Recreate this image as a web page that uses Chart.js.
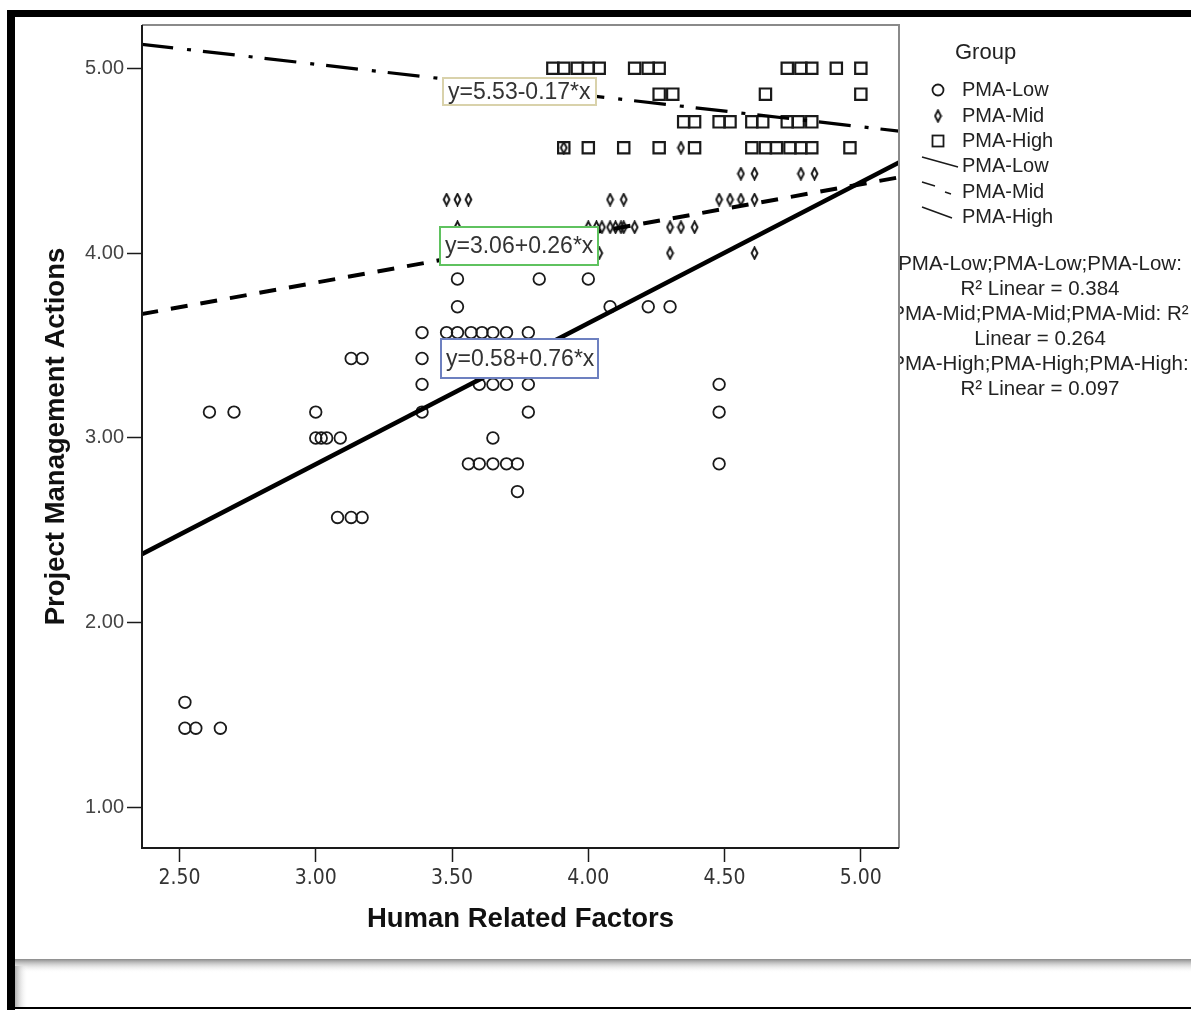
<!DOCTYPE html>
<html>
<head>
<meta charset="utf-8">
<script src="https://cdn.jsdelivr.net/npm/chart.js@4.4.1/dist/chart.umd.min.js"></script>
<style>
    html, body { margin: 0; padding: 0; background: #fff; }
    #wrap { position: relative; width: 1191px; height: 1010px; }
</style>
</head>
<body>
<div id="wrap"><canvas id="chartScatter" width="1191" height="1010"></canvas></div>
<script>
const xTicks = [2.5, 3, 3.5, 4, 4.5, 5];
const yTicks = [1, 2, 3, 4, 5];

// PMA-Low (circles)
const lowX = [2.52, 2.52, 2.56, 2.65, 2.61, 2.70, 3.00, 3.00, 3.02, 3.04, 3.09, 3.13, 3.17, 3.08, 3.13, 3.17,
    3.39, 3.39, 3.39, 3.39, 3.52, 3.82, 4.00, 3.52, 4.08, 4.22, 4.30, 3.48, 3.52, 3.57, 3.61, 3.65, 3.70, 3.78,
    3.60, 3.65, 3.70, 3.78, 4.48, 3.78, 4.48, 3.65, 3.56, 3.60, 3.65, 3.70, 3.74, 4.48, 3.74];
const lowY = [1.57, 1.43, 1.43, 1.43, 3.14, 3.14, 3.14, 3.00, 3.00, 3.00, 3.00, 3.43, 3.43, 2.57, 2.57, 2.57,
    3.57, 3.43, 3.29, 3.14, 3.86, 3.86, 3.86, 3.71, 3.71, 3.71, 3.71, 3.57, 3.57, 3.57, 3.57, 3.57, 3.57, 3.57,
    3.29, 3.29, 3.29, 3.29, 3.29, 3.14, 3.14, 3.00, 2.86, 2.86, 2.86, 2.86, 2.86, 2.86, 2.71];

// PMA-Mid (diamonds)
const midX = [3.48, 3.52, 3.56, 4.08, 4.13, 4.48, 4.52, 4.56, 4.61,
    4.56, 4.61, 4.78, 4.83,
    3.52, 4.00, 4.03, 4.05, 4.08, 4.10, 4.12, 4.13, 4.17, 4.30, 4.34, 4.39,
    4.04, 4.30, 4.61,
    4.34, 3.91];
const midY = [4.29, 4.29, 4.29, 4.29, 4.29, 4.29, 4.29, 4.29, 4.29,
    4.43, 4.43, 4.43, 4.43,
    4.14, 4.14, 4.14, 4.14, 4.14, 4.14, 4.14, 4.14, 4.14, 4.14, 4.14, 4.14,
    4.00, 4.00, 4.00,
    4.57, 4.57];

// PMA-High (squares)
const highX = [3.87, 3.91, 3.96, 4.00, 4.04, 4.17, 4.22, 4.26, 4.73, 4.78, 4.82, 4.91, 5.00,
    4.26, 4.31, 4.65, 5.00,
    4.35, 4.39, 4.48, 4.52, 4.60, 4.64, 4.73, 4.77, 4.82,
    3.91, 4.00, 4.13, 4.26, 4.39, 4.60, 4.65, 4.69, 4.74, 4.78, 4.82, 4.96];
const highY = [5.00, 5.00, 5.00, 5.00, 5.00, 5.00, 5.00, 5.00, 5.00, 5.00, 5.00, 5.00, 5.00,
    4.86, 4.86, 4.86, 4.86,
    4.71, 4.71, 4.71, 4.71, 4.71, 4.71, 4.71, 4.71, 4.71,
    4.57, 4.57, 4.57, 4.57, 4.57, 4.57, 4.57, 4.57, 4.57, 4.57, 4.57, 4.57];

// fit lines, read at the left and right edges of the plot
const fitX = [2.36, 5.14];
const fitLow = [2.37, 4.49];
const fitMid = [3.67, 4.41];
const fitHigh = [5.13, 4.66];

const groups = ['PMA-Low', 'PMA-Mid', 'PMA-High'];
const equations = ['y=0.58+0.76*x', 'y=3.06+0.26*x', 'y=5.53-0.17*x'];
const r2Lines = [
    'PMA-Low;PMA-Low;PMA-Low:', 'R\u00B2 Linear = 0.384',
    'PMA-Mid;PMA-Mid;PMA-Mid: R\u00B2', 'Linear = 0.264',
    'PMA-High;PMA-High;PMA-High:', 'R\u00B2 Linear = 0.097',
];

const ink = '#1a1a1a';
const sans = "'Liberation Sans', Arial, sans-serif";
const narrow = "'Liberation Sans Narrow', 'DejaVu Sans Condensed', 'Liberation Sans', sans-serif";

function toPoints(xs, ys) {
    return xs.map(function (x, i) { return { x: x, y: ys[i] }; });
}

function diamondMarker() {
    const c = document.createElement('canvas');
    c.width = 9;
    c.height = 14;
    const g = c.getContext('2d');
    g.strokeStyle = ink;
    g.lineWidth = 2;
    g.beginPath();
    g.moveTo(4.5, 1.4);
    g.lineTo(7.4, 7);
    g.lineTo(4.5, 12.6);
    g.lineTo(1.6, 7);
    g.closePath();
    g.stroke();
    return c;
}
const diamond = diamondMarker();

const backdrop = {
    id: 'backdrop',
    beforeDraw(chart) {
        const ctx = chart.ctx;
        ctx.save();
        ctx.fillStyle = '#fff';
        ctx.fillRect(0, 0, chart.width, chart.height);
        ctx.fillStyle = '#000';
        ctx.fillRect(7, 10, chart.width - 7, 7);
        ctx.fillRect(7, 10, 8, chart.height - 10);
        let g = ctx.createLinearGradient(0, 959, 0, 973);
        g.addColorStop(0, '#8a8a8a');
        g.addColorStop(1, 'rgba(255,255,255,0)');
        ctx.fillStyle = g;
        ctx.fillRect(15, 959, chart.width - 15, 14);
        g = ctx.createLinearGradient(15, 0, 28, 0);
        g.addColorStop(0, '#b0b0b0');
        g.addColorStop(1, 'rgba(255,255,255,0)');
        ctx.fillStyle = g;
        ctx.fillRect(15, 966, 13, 41);
        ctx.fillStyle = '#000';
        ctx.fillRect(15, 1007, chart.width - 15, 2);
        ctx.restore();
    },
};

const boxes = [
    { text: equations[2], left: 443, top: 78, width: 153, height: 27, color: '#d9d2ab' },
    { text: equations[1], left: 440, top: 227, width: 158, height: 38, color: '#5fc25f' },
    { text: equations[0], left: 441, top: 339, width: 157, height: 39, color: '#6d80c0' },
];

const frameAndBoxes = {
    id: 'frameAndBoxes',
    afterDatasetsDraw(chart) {
        const ctx = chart.ctx;
        const a = chart.chartArea;
        ctx.save();
        ctx.lineWidth = 2;
        ctx.strokeStyle = '#8a8a8a';
        ctx.beginPath();
        ctx.moveTo(a.left, a.top);
        ctx.lineTo(a.right, a.top);
        ctx.lineTo(a.right, a.bottom);
        ctx.stroke();
        ctx.strokeStyle = ink;
        ctx.beginPath();
        ctx.moveTo(a.left, a.top);
        ctx.lineTo(a.left, a.bottom);
        ctx.lineTo(a.right, a.bottom);
        ctx.stroke();

        boxes.forEach(function (b) {
            ctx.fillStyle = '#fff';
            ctx.fillRect(b.left, b.top, b.width, b.height);
            ctx.strokeStyle = b.color;
            ctx.lineWidth = 2;
            ctx.strokeRect(b.left, b.top, b.width, b.height);
            ctx.fillStyle = '#333';
            ctx.font = '23px ' + sans;
            ctx.textBaseline = 'middle';
            ctx.textAlign = 'left';
            ctx.fillText(b.text, b.left + 5, b.top + b.height / 2 + 1);
        });
        ctx.restore();
    },
};

const legendPanel = {
    id: 'legendPanel',
    afterDraw(chart) {
        const ctx = chart.ctx;
        ctx.save();
        ctx.fillStyle = '#222';
        ctx.textBaseline = 'middle';
        ctx.textAlign = 'left';
        ctx.font = '22px ' + sans;
        ctx.fillText('Group', 955, 53);

        ctx.font = '20px ' + sans;
        const rows = [90, 116, 141, 166, 192, 217];
        const textX = 962;
        groups.forEach(function (name, i) {
            ctx.fillText(name, textX, rows[i]);
            ctx.fillText(name, textX, rows[i + 3]);
        });

        ctx.strokeStyle = ink;
        ctx.lineWidth = 1.8;
        ctx.beginPath();
        ctx.arc(938, rows[0], 5.5, 0, Math.PI * 2);
        ctx.stroke();
        ctx.drawImage(diamond, 938 - 4.5, rows[1] - 7);
        ctx.strokeRect(932.5, rows[2] - 5.5, 11, 11);

        ctx.lineWidth = 1.5;
        ctx.beginPath();
        ctx.moveTo(922, rows[3] - 9);
        ctx.lineTo(958, rows[3] + 1);
        ctx.stroke();
        ctx.beginPath();
        ctx.moveTo(922, rows[4] - 10);
        ctx.lineTo(935, rows[4] - 6);
        ctx.moveTo(945, rows[4]);
        ctx.lineTo(951, rows[4] + 2);
        ctx.stroke();
        ctx.beginPath();
        ctx.moveTo(922, rows[5] - 10);
        ctx.lineTo(952, rows[5] + 1);
        ctx.stroke();

        ctx.beginPath();
        ctx.rect(900, 230, chart.width - 900, 180);
        ctx.clip();
        ctx.font = '20.5px ' + sans;
        ctx.textAlign = 'center';
        ctx.fillStyle = '#222';
        r2Lines.forEach(function (line, i) {
            ctx.fillText(line, 1040, 264 + i * 25);
        });
        ctx.restore();
    },
};

const pointBase = {
    type: 'scatter',
    backgroundColor: 'rgba(0,0,0,0)',
    borderColor: ink,
    borderWidth: 1.8,
    order: 2,
};

function fitLine(label, ys, width, dash) {
    return {
        type: 'line',
        label: label,
        data: toPoints(fitX, ys),
        borderColor: '#000',
        borderWidth: width,
        borderDash: dash,
        borderCapStyle: 'butt',
        pointRadius: 0,
        fill: false,
        tension: 0,
        order: 1,
    };
}

new Chart(document.getElementById('chartScatter'), {
    type: 'scatter',
    data: {
        datasets: [
            Object.assign({}, pointBase, { label: groups[0], data: toPoints(lowX, lowY), pointStyle: 'circle', pointRadius: 5.8 }),
            Object.assign({}, pointBase, { label: groups[1], data: toPoints(midX, midY), pointStyle: diamond, pointRadius: 5 }),
            Object.assign({}, pointBase, { label: groups[2], data: toPoints(highX, highY), pointStyle: 'rect', pointRadius: 8, borderWidth: 2.2 }),
            fitLine(groups[0], fitLow, 4.5, []),
            fitLine(groups[1], fitMid, 4, [17, 13]),
            fitLine(groups[2], fitHigh, 3.2, [32, 14, 4, 12]),
        ],
    },
    options: {
        responsive: false,
        animation: false,
        layout: { padding: { top: 25, right: 292, left: 0, bottom: 0 } },
        plugins: {
            legend: { display: false },
            tooltip: { enabled: false },
        },
        scales: {
            x: {
                type: 'linear',
                min: 2.3625,
                max: 5.14,
                afterFit: function (scale) { scale.height = 162; },
                afterBuildTicks: function (scale) { scale.ticks = xTicks.map(function (v) { return { value: v }; }); },
                grid: { drawOnChartArea: false, drawTicks: true, tickLength: 14, tickColor: ink, tickWidth: 1.5 },
                border: { display: false },
                ticks: {
                    padding: 4,
                    color: '#333',
                    font: { family: narrow, size: 21 },
                    callback: function (v) { return Number(v).toFixed(2); },
                },
                title: {
                    display: true,
                    text: 'Human Related Factors',
                    color: '#111',
                    font: { family: sans, size: 27.5, weight: 'bold' },
                    padding: { top: 0, bottom: 74 },
                },
            },
            y: {
                type: 'linear',
                min: 0.782,
                max: 5.234,
                afterFit: function (scale) { scale.width = 142; },
                afterBuildTicks: function (scale) { scale.ticks = yTicks.map(function (v) { return { value: v }; }); },
                grid: { drawOnChartArea: false, drawTicks: true, tickLength: 15, tickColor: ink, tickWidth: 1.5 },
                border: { display: false },
                ticks: {
                    padding: 3,
                    color: '#444',
                    font: { family: sans, size: 20 },
                    callback: function (v) { return Number(v).toFixed(2); },
                },
                title: {
                    display: true,
                    text: 'Project Management Actions',
                    color: '#111',
                    font: { family: sans, size: 27.5, weight: 'bold' },
                    padding: { top: 40, bottom: 0 },
                },
            },
        },
    },
    plugins: [backdrop, frameAndBoxes, legendPanel],
});
</script>
</body>
</html>
